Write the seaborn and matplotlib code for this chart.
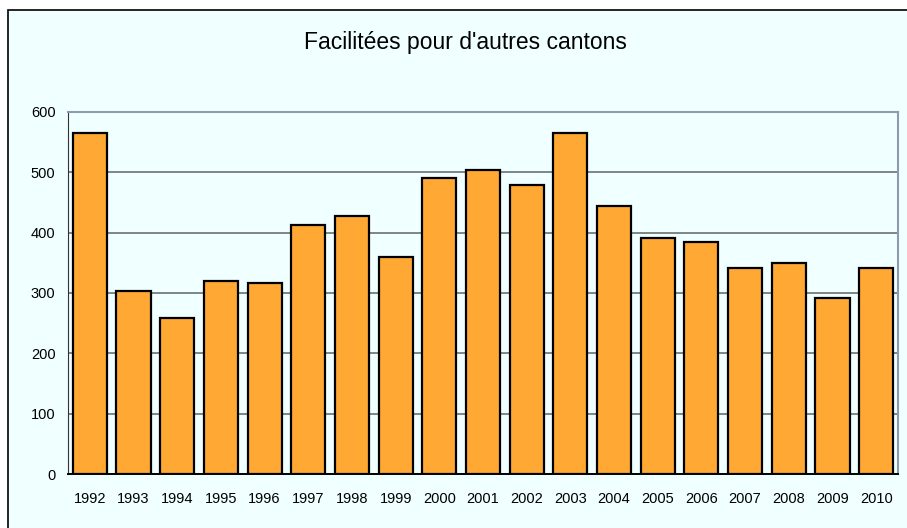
import numpy as np
import pandas as pd
import matplotlib
matplotlib.use('Agg')
import matplotlib.pyplot as plt
import seaborn as sns
from matplotlib.patches import Rectangle

# Données
annees = ['1992', '1993', '1994', '1995', '1996', '1997', '1998', '1999', '2000', '2001',
          '2002', '2003', '2004', '2005', '2006', '2007', '2008', '2009', '2010']
valeurs = [565, 303, 259, 320, 317, 413, 428, 360, 491, 504,
           479, 565, 444, 391, 385, 341, 350, 292, 341]

df = pd.DataFrame({'Annee': annees, 'Valeur': valeurs})

sns.set_style('white')
plt.rcParams['font.family'] = ['Liberation Sans', 'DejaVu Sans']

fig = plt.figure(figsize=(9.07, 5.28), dpi=100)
fig.patch.set_facecolor('white')
# cadre du graphique (bords droit et bas hors de l'image)
fig.patches.append(Rectangle((8 / 907, -0.1), 1.2, 1.1 - 10 / 528, transform=fig.transFigure,
                             facecolor='#F0FFFF', edgecolor='black', linewidth=1.2, zorder=-5))

ax = fig.add_axes([68 / 907, 54 / 528, 830 / 907, 362 / 528])
ax.set_facecolor('#F0FFFF')

sns.barplot(data=df, x='Annee', y='Valeur', color='#FFA833', width=0.78,
            edgecolor='black', linewidth=1.6, saturation=1, ax=ax, zorder=3)

ax.set_ylim(0, 600)
ax.set_xlim(-0.5, len(annees) - 0.5)
ax.set_yticks(range(0, 601, 100))
ax.yaxis.grid(True, color='#6E7070', linewidth=1.2, zorder=0)
ax.set_axisbelow(True)

ax.spines['left'].set_color('#333333')
ax.spines['bottom'].set_color('black')
ax.spines['bottom'].set_linewidth(1.4)
ax.spines['top'].set_color('#8C9BAE')
ax.spines['right'].set_color('#8C9BAE')
for s in ['top', 'right']:
    ax.spines[s].set_linewidth(1.5)

ax.set_xticks(np.arange(-0.5, len(annees), 1), minor=True)
ax.tick_params(axis='x', which='major', length=0, pad=13, labelsize=10.5, labelcolor='black')
ax.tick_params(axis='x', which='minor', length=4, width=1, direction='out', color='#333333')
ax.tick_params(axis='y', length=5, width=1, direction='out', color='#333333', labelsize=10.5,
               pad=4, labelcolor='black')

ax.set_xlabel('')
ax.set_ylabel('')

fig.text(465 / 907, 1 - 43 / 528, "Facilitées pour d'autres cantons", ha='center', va='center',
         fontsize=16.5, color='black')

plt.savefig('out.png', dpi=100)
